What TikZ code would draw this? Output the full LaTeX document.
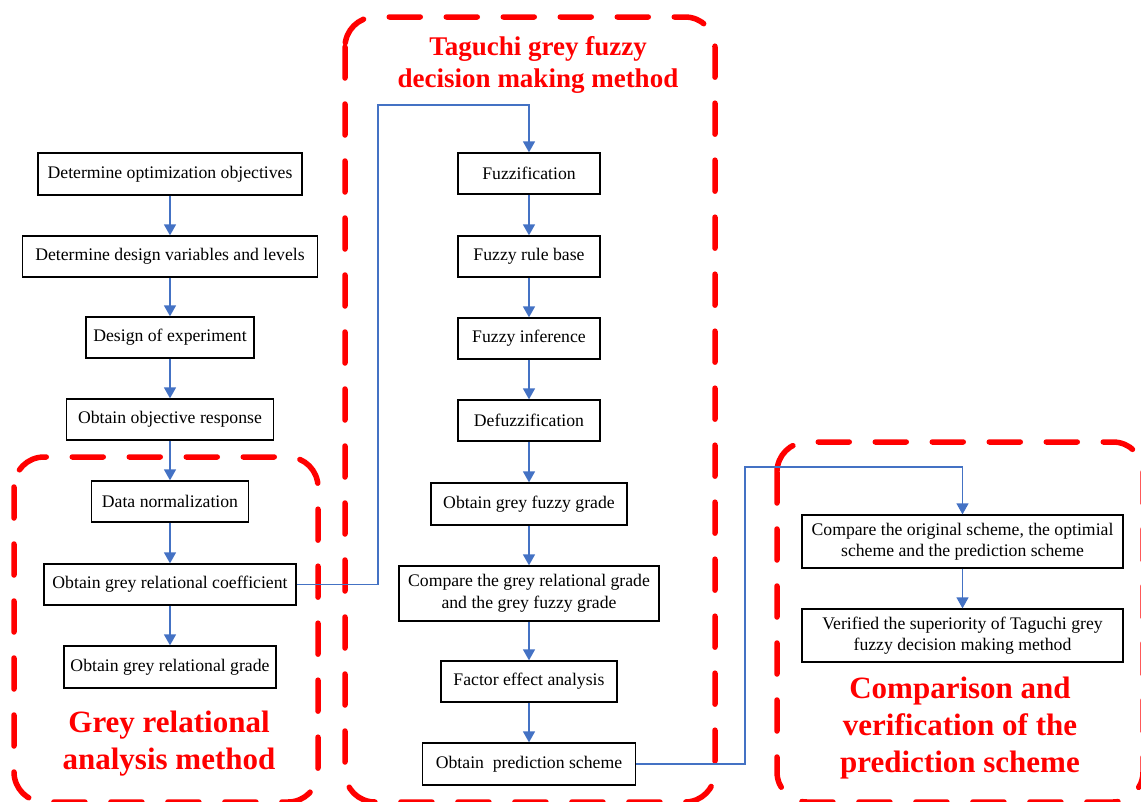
\documentclass[tikz,border=0pt]{standalone}
\usepackage{fontspec}
\setmainfont{Liberation Serif}
\usetikzlibrary{arrows.meta}
\definecolor{conn}{RGB}{68,114,196}
\definecolor{reg}{RGB}{255,0,0}
\begin{document}
\begin{tikzpicture}[x=1pt,y=-1pt,
 box/.style={draw=black, line width=1.3pt, inner sep=0pt, align=center, font=\fontsize{17.7}{21.5}\selectfont},
 link/.style={draw=conn, line width=1.4pt, -{Triangle[length=11pt,width=12pt]}},
 region/.style={draw=reg, line width=5.5pt, rounded corners=30pt, dash pattern=on 31pt off 26pt, line cap=round},
 title/.style={text=reg, font=\bfseries\fontsize{31}{37}\selectfont, align=center}]
\useasboundingbox (0,0) rectangle (1141,801);
\clip (0,0) rectangle (1141,801);
% regions
\draw[region] (14,457) rectangle (318,802);
\draw[region] (345,17) rectangle (715,802);
\draw[region] (777,442) rectangle (1143,802);
% titles
\node[title, font=\bfseries\fontsize{27}{32}\selectfont] (t2) at (538,65) {Taguchi grey fuzzy\\decision making method};
\node[title] (t1) at (169,744) {Grey relational\\analysis method};
\node[title] (t3) at (960,728) {Comparison and\\verification of the\\prediction scheme};
% left column
\node[box, minimum width=264pt, minimum height=42pt] (a1) at (170,174) {Determine optimization objectives};
\node[box, minimum width=295pt, minimum height=41pt] (a2) at (170,256.5) {Determine design variables and levels};
\node[box, minimum width=168pt, minimum height=41pt] (a3) at (170,337.5) {Design of experiment};
\node[box, minimum width=207pt, minimum height=41pt] (a4) at (170,419.5) {Obtain objective response};
\node[box, minimum width=157pt, minimum height=41pt] (a5) at (170,501.5) {Data normalization};
\node[box, minimum width=252pt, minimum height=41pt] (a6) at (170,584.5) {Obtain grey relational coefficient};
\node[box, minimum width=212pt, minimum height=42pt] (a7) at (170,667) {Obtain grey relational grade};
% middle column
\node[box, minimum width=142pt, minimum height=41pt] (b1) at (529,173.5) {Fuzzification};
\node[box, minimum width=142pt, minimum height=41pt] (b2) at (529,256.5) {Fuzzy rule base};
\node[box, minimum width=142pt, minimum height=41pt] (b3) at (529,338.5) {Fuzzy inference};
\node[box, minimum width=142pt, minimum height=41pt] (b4) at (529,420.5) {Defuzzification};
\node[box, minimum width=196pt, minimum height=42pt] (b5) at (529,504) {Obtain grey fuzzy grade};
\node[box, minimum width=260pt, minimum height=55pt] (b6) at (529,593.5) {Compare the grey relational grade\\and the grey fuzzy grade};
\node[box, minimum width=176pt, minimum height=41pt] (b7) at (529,681.5) {Factor effect analysis};
\node[box, minimum width=213pt, minimum height=42pt] (b8) at (529,764) {Obtain\ \ prediction scheme};
% right column
\node[box, minimum width=321pt, minimum height=53pt] (c1) at (962.5,541.5) {Compare the original scheme, the optimial\\scheme and the prediction scheme};
\node[box, minimum width=321pt, minimum height=53pt] (c2) at (962.5,635.5) {Verified the superiority of Taguchi grey\\fuzzy decision making method};
% connectors
\foreach \u/\v in {a1/a2,a2/a3,a3/a4,a4/a5,a5/a6,a6/a7,b1/b2,b2/b3,b3/b4,b4/b5,b5/b6,b6/b7,b7/b8,c1/c2}
  \draw[link] (\u.south) -- (\v.north);
\coordinate (j1) at (378,105);
\coordinate (j2) at (745,467);
\draw[link] (a6.east) -| (j1) -| (b1.north);
\draw[link] (b8.east) -| (j2) -| (c1.north);
\end{tikzpicture}
\end{document}
